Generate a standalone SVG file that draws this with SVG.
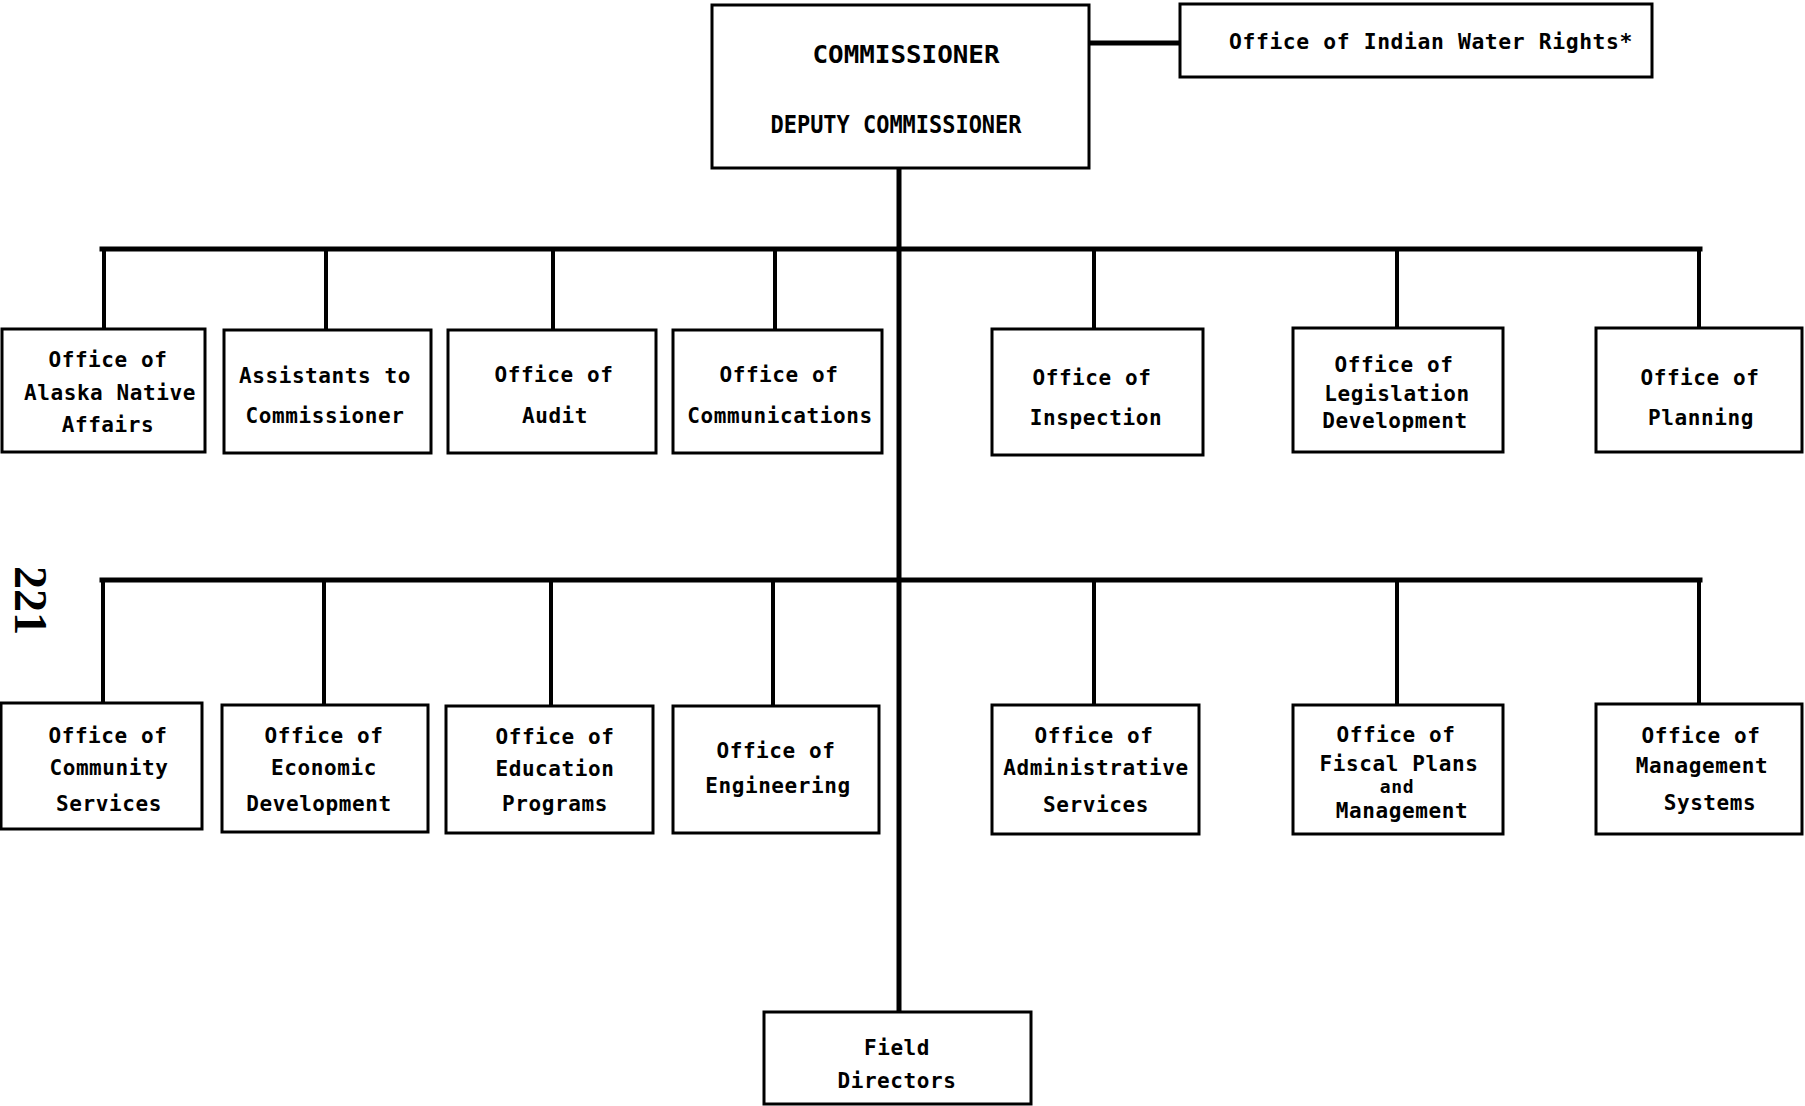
<svg xmlns="http://www.w3.org/2000/svg" width="1805" height="1106" viewBox="0 0 1805 1106">
  <style>
    .box { fill: #ffffff; stroke: #000000; stroke-width: 3; }
    .link { stroke: #000000; stroke-width: 4; fill: none; stroke-linecap: square; }
    .main { stroke: #000000; stroke-width: 5; fill: none; stroke-linecap: square; }
    text { font-family: "DejaVu Sans Mono", "Liberation Mono", monospace; font-weight: bold; fill: #000000; }
    .lbl { font-size: 21px; letter-spacing: 0.6px; text-anchor: middle; }
    .small { font-size: 18px; }
    .head { font-size: 24px; text-anchor: middle; }
    .page { font-family: "Liberation Serif", serif; font-size: 46px; }
  </style>
  <rect x="0" y="0" width="1805" height="1106" fill="#ffffff"/>

  <!-- connectors -->
  <g id="connectors">
    <line class="main" x1="1089" y1="43" x2="1180" y2="43"/>
    <line class="main" x1="899" y1="168" x2="899" y2="1012"/>
    <line class="main" x1="102" y1="249" x2="1700" y2="249"/>
    <line class="link" x1="104" y1="249" x2="104" y2="329"/>
    <line class="link" x1="326" y1="249" x2="326" y2="330"/>
    <line class="link" x1="553" y1="249" x2="553" y2="330"/>
    <line class="link" x1="775" y1="249" x2="775" y2="330"/>
    <line class="link" x1="1094" y1="249" x2="1094" y2="329"/>
    <line class="link" x1="1397" y1="249" x2="1397" y2="328"/>
    <line class="link" x1="1699" y1="249" x2="1699" y2="328"/>
    <line class="main" x1="102" y1="580" x2="1700" y2="580"/>
    <line class="link" x1="103" y1="580" x2="103" y2="703"/>
    <line class="link" x1="324" y1="580" x2="324" y2="705"/>
    <line class="link" x1="551" y1="580" x2="551" y2="706"/>
    <line class="link" x1="773" y1="580" x2="773" y2="706"/>
    <line class="link" x1="1094" y1="580" x2="1094" y2="705"/>
    <line class="link" x1="1397" y1="580" x2="1397" y2="705"/>
    <line class="link" x1="1699" y1="580" x2="1699" y2="704"/>
  </g>

  <!-- top level -->
  <g id="commissioner">
    <rect class="box" x="712" y="5" width="377" height="163"/>
    <text class="head" x="906" y="63" textLength="187" lengthAdjust="spacingAndGlyphs">COMMISSIONER</text>
    <text class="head" x="896" y="133" textLength="251" lengthAdjust="spacingAndGlyphs">DEPUTY COMMISSIONER</text>
  </g>
  <g id="water-rights">
    <rect class="box" x="1180" y="4" width="472" height="73"/>
    <text class="lbl" x="1431" y="49" textLength="404" lengthAdjust="spacingAndGlyphs">Office of Indian Water Rights*</text>
  </g>

  <!-- first row of offices -->
  <g id="alaska-native">
    <rect class="box" x="2" y="329" width="203" height="123"/>
    <text class="lbl" x="108" y="367">Office of</text>
    <text class="lbl" x="110" y="400">Alaska Native</text>
    <text class="lbl" x="108" y="432">Affairs</text>
  </g>
  <g id="assistants">
    <rect class="box" x="224" y="330" width="207" height="123"/>
    <text class="lbl" x="325" y="383">Assistants to</text>
    <text class="lbl" x="325" y="423">Commissioner</text>
  </g>
  <g id="audit">
    <rect class="box" x="448" y="330" width="208" height="123"/>
    <text class="lbl" x="554" y="382">Office of</text>
    <text class="lbl" x="555" y="423">Audit</text>
  </g>
  <g id="communications">
    <rect class="box" x="673" y="330" width="209" height="123"/>
    <text class="lbl" x="779" y="382">Office of</text>
    <text class="lbl" x="780" y="423">Communications</text>
  </g>
  <g id="inspection">
    <rect class="box" x="992" y="329" width="211" height="126"/>
    <text class="lbl" x="1092" y="385">Office of</text>
    <text class="lbl" x="1096" y="425">Inspection</text>
  </g>
  <g id="legislation">
    <rect class="box" x="1293" y="328" width="210" height="124"/>
    <text class="lbl" x="1394" y="372">Office of</text>
    <text class="lbl" x="1397" y="401">Legislation</text>
    <text class="lbl" x="1395" y="428">Development</text>
  </g>
  <g id="planning">
    <rect class="box" x="1596" y="328" width="206" height="124"/>
    <text class="lbl" x="1700" y="385">Office of</text>
    <text class="lbl" x="1701" y="425">Planning</text>
  </g>

  <!-- second row of offices -->
  <g id="community-services">
    <rect class="box" x="1" y="703" width="201" height="126"/>
    <text class="lbl" x="108" y="743">Office of</text>
    <text class="lbl" x="109" y="775">Community</text>
    <text class="lbl" x="109" y="811">Services</text>
  </g>
  <g id="economic-development">
    <rect class="box" x="222" y="705" width="206" height="127"/>
    <text class="lbl" x="324" y="743">Office of</text>
    <text class="lbl" x="324" y="775">Economic</text>
    <text class="lbl" x="319" y="811">Development</text>
  </g>
  <g id="education-programs">
    <rect class="box" x="446" y="706" width="207" height="127"/>
    <text class="lbl" x="555" y="744">Office of</text>
    <text class="lbl" x="555" y="776">Education</text>
    <text class="lbl" x="555" y="811">Programs</text>
  </g>
  <g id="engineering">
    <rect class="box" x="673" y="706" width="206" height="127"/>
    <text class="lbl" x="776" y="758">Office of</text>
    <text class="lbl" x="778" y="793">Engineering</text>
  </g>
  <g id="administrative-services">
    <rect class="box" x="992" y="705" width="207" height="129"/>
    <text class="lbl" x="1094" y="743">Office of</text>
    <text class="lbl" x="1096" y="775">Administrative</text>
    <text class="lbl" x="1096" y="812">Services</text>
  </g>
  <g id="fiscal-plans">
    <rect class="box" x="1293" y="705" width="210" height="129"/>
    <text class="lbl" x="1396" y="742">Office of</text>
    <text class="lbl" x="1399" y="771">Fiscal Plans</text>
    <text class="lbl small" x="1397" y="793">and</text>
    <text class="lbl" x="1402" y="818">Management</text>
  </g>
  <g id="management-systems">
    <rect class="box" x="1596" y="704" width="206" height="130"/>
    <text class="lbl" x="1701" y="743">Office of</text>
    <text class="lbl" x="1702" y="773">Management</text>
    <text class="lbl" x="1710" y="810">Systems</text>
  </g>

  <!-- field level -->
  <g id="field-directors">
    <rect class="box" x="764" y="1012" width="267" height="92"/>
    <text class="lbl" x="897" y="1055">Field</text>
    <text class="lbl" x="897" y="1088">Directors</text>
  </g>

  <!-- page number, printed sideways -->
  <text class="page" transform="translate(15,566) rotate(90)">221</text>
</svg>
